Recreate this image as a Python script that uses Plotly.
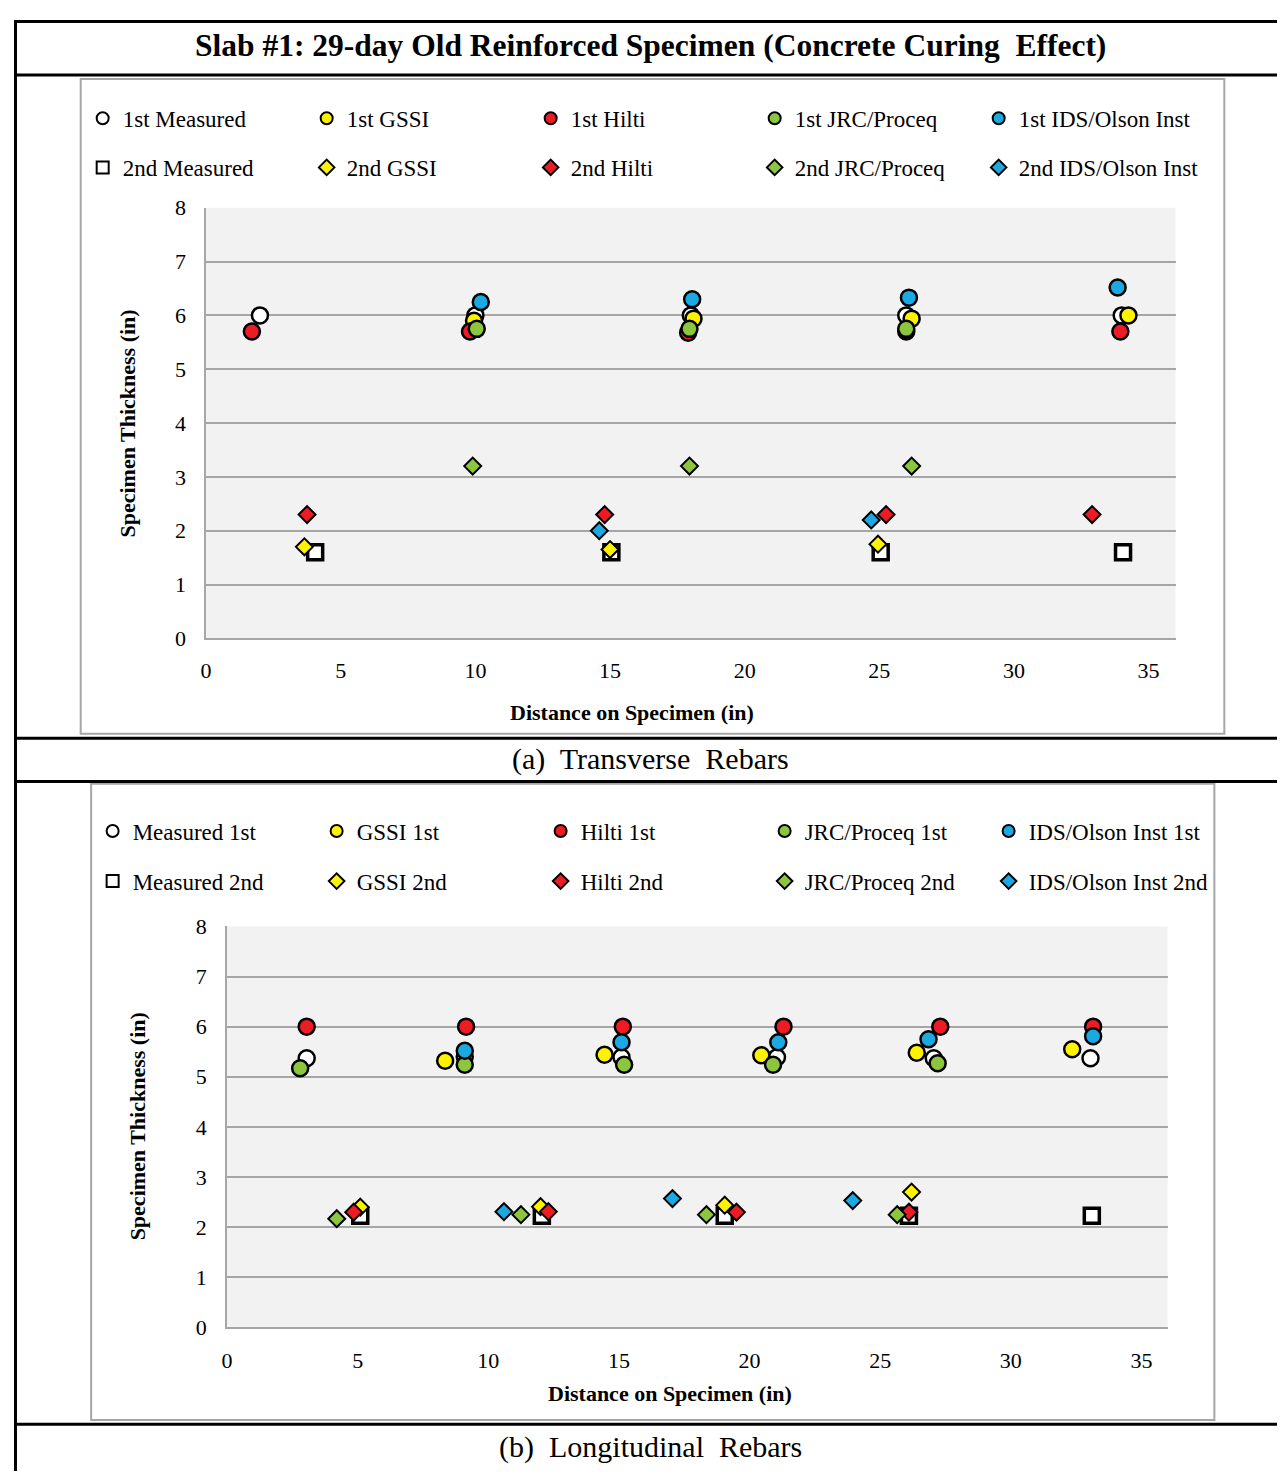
import plotly.graph_objects as go

W, H = 1285, 1476

# ---- (a) Transverse rebars ----
ta_meas1_x = [2, 10, 18, 26, 34]
ta_meas1_y = [6.0, 6.0, 6.0, 6.0, 6.0]
ta_gssi1_x = [9.95, 18.1, 26.2, 34.25]
ta_gssi1_y = [5.9, 5.94, 5.94, 6.0]
ta_hilti1_x = [1.7, 9.8, 17.9, 26.0, 33.95]
ta_hilti1_y = [5.7, 5.7, 5.68, 5.7, 5.7]
ta_jrc1_x = [10.05, 17.95, 26.0]
ta_jrc1_y = [5.75, 5.75, 5.75]
ta_ids1_x = [10.2, 18.05, 26.1, 33.85]
ta_ids1_y = [6.25, 6.3, 6.33, 6.52]

ta_meas2_x = [4.05, 15.05, 25.05, 34.05]
ta_meas2_y = [1.6, 1.6, 1.6, 1.6]
ta_gssi2_x = [3.65, 15.0, 24.95]
ta_gssi2_y = [1.7, 1.65, 1.75]
ta_hilti2_x = [3.75, 14.8, 25.25, 32.9]
ta_hilti2_y = [2.3, 2.3, 2.3, 2.3]
ta_jrc2_x = [9.9, 17.95, 26.2]
ta_jrc2_y = [3.2, 3.2, 3.2]
ta_ids2_x = [14.6, 24.7]
ta_ids2_y = [2.0, 2.2]

# ---- (b) Longitudinal rebars ----
lb_meas1_x = [3.05, 9.1, 15.1, 21.05, 27.05, 33.05]
lb_meas1_y = [5.37, 5.4, 5.39, 5.39, 5.37, 5.37]
lb_gssi1_x = [8.35, 14.45, 20.45, 26.4, 32.35]
lb_gssi1_y = [5.32, 5.44, 5.43, 5.48, 5.55]
lb_hilti1_x = [3.05, 9.15, 15.15, 21.3, 27.3, 33.15]
lb_hilti1_y = [6.0, 6.0, 6.0, 6.0, 6.0, 6.0]
lb_jrc1_x = [2.8, 9.1, 15.2, 20.9, 27.2]
lb_jrc1_y = [5.17, 5.24, 5.24, 5.24, 5.27]
lb_ids1_x = [9.1, 15.1, 21.1, 26.85, 33.15]
lb_ids1_y = [5.52, 5.69, 5.69, 5.75, 5.81]

lb_meas2_x = [5.1, 12.05, 19.05, 26.1, 33.1]
lb_meas2_y = [2.23, 2.23, 2.23, 2.23, 2.23]
lb_gssi2_x = [5.1, 12.0, 19.05, 26.2]
lb_gssi2_y = [2.4, 2.41, 2.44, 2.7]
lb_hilti2_x = [4.85, 12.3, 19.5, 26.1]
lb_hilti2_y = [2.3, 2.31, 2.3, 2.3]
lb_jrc2_x = [4.2, 11.25, 18.35, 25.65]
lb_jrc2_y = [2.17, 2.25, 2.25, 2.25]
lb_ids2_x = [10.6, 17.05, 23.95]
lb_ids2_y = [2.31, 2.57, 2.53]

instruments = ['Measured', 'GSSI', 'Hilti', 'JRC/Proceq', 'IDS/Olson Inst']
colors = ['white', '#FFF200', '#ED1C24', '#8CC63F', '#1BA9E1']

FONT = 'Liberation Serif'

fig = go.Figure()


def add_set(series, xa, ya, names, legends, symbol, size, lw):
    for (x, y), name, col in zip(series, names, colors):
        fig.add_trace(go.Scatter(
            x=x, y=y, mode='markers', name=name, xaxis=xa, yaxis=ya,
            legend=legends,
            marker=dict(symbol=symbol, size=size, color=col,
                        line=dict(color='black', width=lw))))


top1 = [(ta_meas1_x, ta_meas1_y), (ta_gssi1_x, ta_gssi1_y), (ta_hilti1_x, ta_hilti1_y),
        (ta_jrc1_x, ta_jrc1_y), (ta_ids1_x, ta_ids1_y)]
top2 = [(ta_meas2_x, ta_meas2_y), (ta_gssi2_x, ta_gssi2_y), (ta_hilti2_x, ta_hilti2_y),
        (ta_jrc2_x, ta_jrc2_y), (ta_ids2_x, ta_ids2_y)]
bot1 = [(lb_meas1_x, lb_meas1_y), (lb_gssi1_x, lb_gssi1_y), (lb_hilti1_x, lb_hilti1_y),
        (lb_jrc1_x, lb_jrc1_y), (lb_ids1_x, lb_ids1_y)]
bot2 = [(lb_meas2_x, lb_meas2_y), (lb_gssi2_x, lb_gssi2_y), (lb_hilti2_x, lb_hilti2_y),
        (lb_jrc2_x, lb_jrc2_y), (lb_ids2_x, lb_ids2_y)]

add_set(top1, 'x', 'y', ['1st ' + n for n in instruments], 'legend', 'circle', 16, 2.5)
add_set(top2, 'x', 'y', ['2nd ' + n for n in instruments], 'legend2', 'diamond', 13, 2)
# 2nd measured as hollow square
fig.data[5].marker.symbol = 'square'
fig.data[5].marker.size = 15
fig.data[5].marker.line.width = 3.5

add_set(bot1, 'x2', 'y2', [n + ' 1st' for n in instruments], 'legend3', 'circle', 16, 2.5)
add_set(bot2, 'x2', 'y2', [n + ' 2nd' for n in instruments], 'legend4', 'diamond', 13, 2)
fig.data[15].marker.symbol = 'square'
fig.data[15].marker.size = 15
fig.data[15].marker.line.width = 3.5

# the page puts the figure 8px in from the top-left corner
OFF = 8


def px(x):
    return (x - OFF) / W


def py(y):
    return 1 - (y - OFF) / H


axis_common = dict(
    gridcolor='#A6A6A6', gridwidth=1.5,
    showline=True, linecolor='#A6A6A6', linewidth=1.5,
    zeroline=False, ticks='', tickfont=dict(family=FONT, size=22, color='black'),
)

fig.update_layout(
    width=W, height=H,
    margin=dict(l=0, r=0, t=0, b=0),
    paper_bgcolor='white', plot_bgcolor='#F2F2F2',
    font=dict(family=FONT, color='black'),
    xaxis=dict(domain=[px(201), px(1175)], anchor='y', range=[0, 36],
               tickvals=[0, 5, 10, 15, 20, 25, 30, 35], showgrid=False,
               ticklabelstandoff=12, **axis_common),
    yaxis=dict(domain=[py(637), py(199)], anchor='x', range=[0, 8], dtick=1,
               showgrid=True, ticklabelstandoff=14, **axis_common),
    xaxis2=dict(domain=[px(222), px(1167)], anchor='y2', range=[0, 36],
                tickvals=[0, 5, 10, 15, 20, 25, 30, 35], showgrid=False,
                ticklabelstandoff=12, **axis_common),
    yaxis2=dict(domain=[py(1338), py(930)], anchor='x2', range=[0, 8], dtick=1,
                showgrid=True, ticklabelstandoff=14, **axis_common),
)

leg = dict(orientation='h', entrywidth=179, entrywidthmode='pixels',
           itemsizing='constant',
           font=dict(family=FONT, size=23, color='black'),
           bgcolor='rgba(0,0,0,0)', xanchor='left', yanchor='middle',
           itemclick=False)
fig.update_layout(
    legend=dict(x=px(77), y=py(108), **leg),
    legend2=dict(x=px(77), y=py(158), **leg),
    legend3=dict(x=px(87), y=py(833), **leg),
    legend4=dict(x=px(87), y=py(884), **leg),
)

shapes = []
# chart frames
for x0, y0, x1, y1 in [(75, 68, 1224, 734), (85.5, 785, 1214, 1432)]:
    shapes.append(dict(type='rect', xref='paper', yref='paper',
                       x0=px(x0), x1=px(x1), y0=py(y1), y1=py(y0),
                       line=dict(color='#A6A6A6', width=2), layer='below'))
# table lines
for yy in [9.5, 64, 738.5, 782.5, 1436.5]:
    shapes.append(dict(type='line', xref='paper', yref='paper',
                       x0=px(9.5), x1=px(1283.5), y0=py(yy), y1=py(yy),
                       line=dict(color='black', width=3)))
for xx in [9.5, 1283.5]:
    shapes.append(dict(type='line', xref='paper', yref='paper',
                       x0=px(xx), x1=px(xx), y0=py(8), y1=0,
                       line=dict(color='black', width=3)))
fig.update_layout(shapes=shapes)

ann = [
    dict(text='<b>Slab #1: 29-day Old Reinforced Specimen (Concrete Curing\u00a0 Effect)</b>',
         x=px(647), y=py(34), size=31.5),
    dict(text='(a)\u00a0 Transverse\u00a0 Rebars', x=px(647), y=py(760), size=30),
    dict(text='(b)\u00a0 Longitudinal\u00a0 Rebars', x=px(647), y=py(1460), size=30),
    dict(text='<b>Distance on Specimen (in)</b>', x=px(629), y=py(712), size=22),
    dict(text='<b>Distance on Specimen (in)</b>', x=px(667), y=py(1405), size=22),
]
annotations = [dict(text=a['text'], x=a['x'], y=a['y'], xref='paper', yref='paper',
                    showarrow=False, xanchor='center', yanchor='middle',
                    font=dict(family=FONT, size=a['size'], color='black')) for a in ann]
annotations.append(dict(text='<b>Specimen Thickness (in)</b>', x=px(122), y=py(418),
                        xref='paper', yref='paper', showarrow=False, textangle=-90,
                        xanchor='center', yanchor='middle',
                        font=dict(family=FONT, size=22, color='black')))
annotations.append(dict(text='<b>Specimen Thickness (in)</b>', x=px(133), y=py(1133),
                        xref='paper', yref='paper', showarrow=False, textangle=-90,
                        xanchor='center', yanchor='middle',
                        font=dict(family=FONT, size=22, color='black')))
fig.update_layout(annotations=annotations)

fig.write_html('out.html')
